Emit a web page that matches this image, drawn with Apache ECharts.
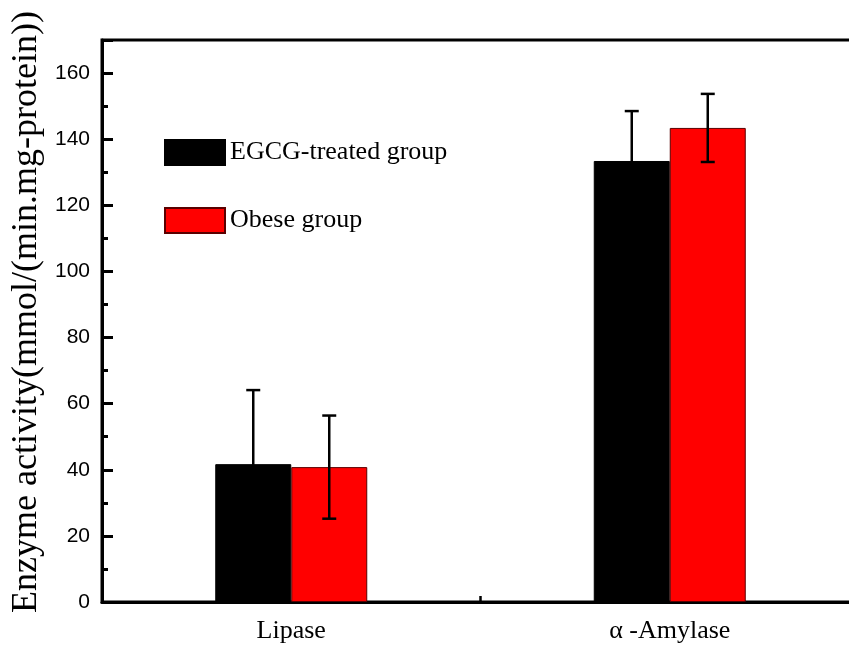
<!DOCTYPE html>
<html><head><meta charset="utf-8">
<script src="https://cdn.jsdelivr.net/npm/echarts@6/dist/echarts.min.js"></script>
<style>html,body{margin:0;padding:0;background:#fff}#c{width:849px;height:650px}</style>
</head><body><div id="c"></div>
<script>
var categories = ['Lipase', 'α -Amylase'];
var seriesNames = ['EGCG-treated group', 'Obese group'];
var egcgValues = [41.7, 133.4];
var egcgErrors = [22.4, 15.1];
var obeseValues = [40.8, 143.4];
var obeseErrors = [15.6, 10.3];
var yTicks = [0, 20, 40, 60, 80, 100, 120, 140, 160];

var BAR_W = 76;
function errSeries(vals, errs, offset) {
  return {
    type: 'custom',
    z: 5,
    silent: true,
    data: vals.map(function (v, i) { return [i, v - errs[i], v + errs[i]]; }),
    renderItem: function (params, api) {
      var lo = api.coord([api.value(0), api.value(1)]);
      var hi = api.coord([api.value(0), api.value(2)]);
      var x = lo[0] + offset;
      var cap = 7;
      var st = { stroke: '#000', lineWidth: 2.5 };
      return { type: 'group', children: [
        { type: 'line', shape: { x1: x, y1: lo[1], x2: x, y2: hi[1] }, style: st },
        { type: 'line', shape: { x1: x - cap, y1: hi[1], x2: x + cap, y2: hi[1] }, style: st },
        { type: 'line', shape: { x1: x - cap, y1: lo[1], x2: x + cap, y2: lo[1] }, style: st }
      ]};
    }
  };
}

var chart = echarts.init(document.getElementById('c'));
chart.setOption({
  animation: false,
  grid: { left: 102, top: 40, right: -10, bottom: 48, show: true, borderColor: '#000', borderWidth: 3,
    backgroundColor: 'transparent', containLabel: false, outerBoundsMode: 'none' },
  legend: {
    orient: 'vertical', left: 159, top: 134, itemWidth: 60, itemHeight: 25, itemGap: 41,
    icon: 'rect',
    textStyle: { fontFamily: 'Liberation Serif', fontSize: 26, color: '#000', padding: [0, 0, 0, 0] },
    data: seriesNames
  },
  xAxis: {
    type: 'category', data: categories,
    axisLine: { lineStyle: { color: '#000', width: 3 } },
    axisTick: { show: true, inside: true, length: 6, lineStyle: { color: '#000', width: 2.5 } },
    axisLabel: { fontFamily: 'Liberation Serif', fontSize: 26, color: '#000', margin: 16 }
  },
  yAxis: {
    type: 'value', min: 0, max: 170, interval: 20,
    name: 'Enzyme activity(mmol/(min.mg-protein))', nameLocation: 'middle', nameGap: 54, nameRotate: 90,
    nameTextStyle: { fontFamily: 'Liberation Serif', fontSize: 36, color: '#000', padding: [0, 0, 0, 18] },
    splitLine: { show: false },
    axisLine: { show: true, lineStyle: { color: '#000', width: 3 } },
    axisTick: { show: true, inside: true, length: 11, lineStyle: { color: '#000', width: 3 } },
    minorTick: { show: true, splitNumber: 2, length: 6, lineStyle: { color: '#000', width: 3 } },
    axisLabel: { fontFamily: 'Liberation Sans', fontSize: 21, color: '#000', margin: 12, showMaxLabel: false,
      formatter: function (v) { return yTicks.indexOf(v) >= 0 ? String(v) : ''; } }
  },
  series: [
    { name: seriesNames[0], type: 'bar', data: egcgValues, barWidth: BAR_W, barGap: '0%',
      itemStyle: { color: '#000', borderColor: '#000', borderWidth: 1 } },
    { name: seriesNames[1], type: 'bar', data: obeseValues, barWidth: BAR_W,
      itemStyle: { color: '#ff0000', borderColor: '#5a0000', borderWidth: 1 } },
    errSeries(egcgValues, egcgErrors, -BAR_W / 2),
    errSeries(obeseValues, obeseErrors, BAR_W / 2)
  ]
});
</script></body></html>
